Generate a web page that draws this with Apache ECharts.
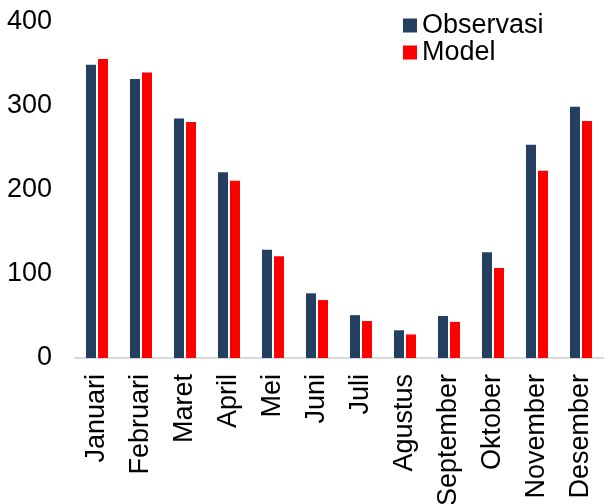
<!DOCTYPE html>
<html>
<head>
<meta charset="utf-8">
<script src="https://cdn.jsdelivr.net/npm/echarts@6/dist/echarts.min.js"></script>
<style>
  html, body { margin: 0; padding: 0; background: #ffffff; }
  #chart { width: 605px; height: 504px; }
</style>
</head>
<body>
<div id="chart"></div>
<script>
// Monthly values: observed vs. model
const months = ['Januari', 'Februari', 'Maret', 'April', 'Mei', 'Juni', 'Juli', 'Agustus', 'September', 'Oktober', 'November', 'Desember'];
const observasi = [349, 332, 285, 221, 129, 77, 51, 33, 50, 126, 254, 299];
const model = [356, 340, 281, 211, 121, 69, 44, 28, 43, 107, 223, 282];
const yTicks = [0, 100, 200, 300, 400];

const font = '"Liberation Sans", Arial, sans-serif';
const chart = echarts.init(document.getElementById('chart'), null, { renderer: 'canvas' });

chart.setOption({
  animation: false,
  backgroundColor: '#ffffff',
  grid: { left: 75, right: 2, top: 22, bottom: 146, containLabel: false, outerBoundsMode: 'none' },
  legend: {
    orient: 'vertical',
    left: 403,
    top: 12,
    padding: 0,
    itemWidth: 14,
    itemHeight: 14,
    itemGap: 0,
    icon: 'rect',
    textStyle: { fontFamily: font, fontSize: 27, color: '#000000', lineHeight: 27 },
    data: ['Observasi', 'Model']
  },
  xAxis: {
    type: 'category',
    data: months,
    axisLine: { show: true, lineStyle: { color: '#d9d9d9', width: 2 } },
    axisTick: { show: false },
    axisLabel: {
      rotate: 90,
      interval: 0,
      margin: 16,
      fontFamily: font,
      fontSize: 27,
      color: '#000000'
    }
  },
  yAxis: {
    type: 'value',
    min: yTicks[0],
    max: yTicks[yTicks.length - 1],
    interval: 100,
    axisLine: { show: false },
    axisTick: { show: false },
    splitLine: { show: false },
    axisLabel: {
      margin: 23,
      padding: [5, 0, 0, 0],
      fontFamily: font,
      fontSize: 27,
      color: '#000000'
    }
  },
  series: [
    {
      name: 'Observasi',
      type: 'bar',
      data: observasi,
      barWidth: 10,
      barGap: '20%',
      itemStyle: { color: '#243F60' }
    },
    {
      name: 'Model',
      type: 'bar',
      data: model,
      barWidth: 10,
      itemStyle: { color: '#FF0000' }
    }
  ]
});
</script>
</body>
</html>
